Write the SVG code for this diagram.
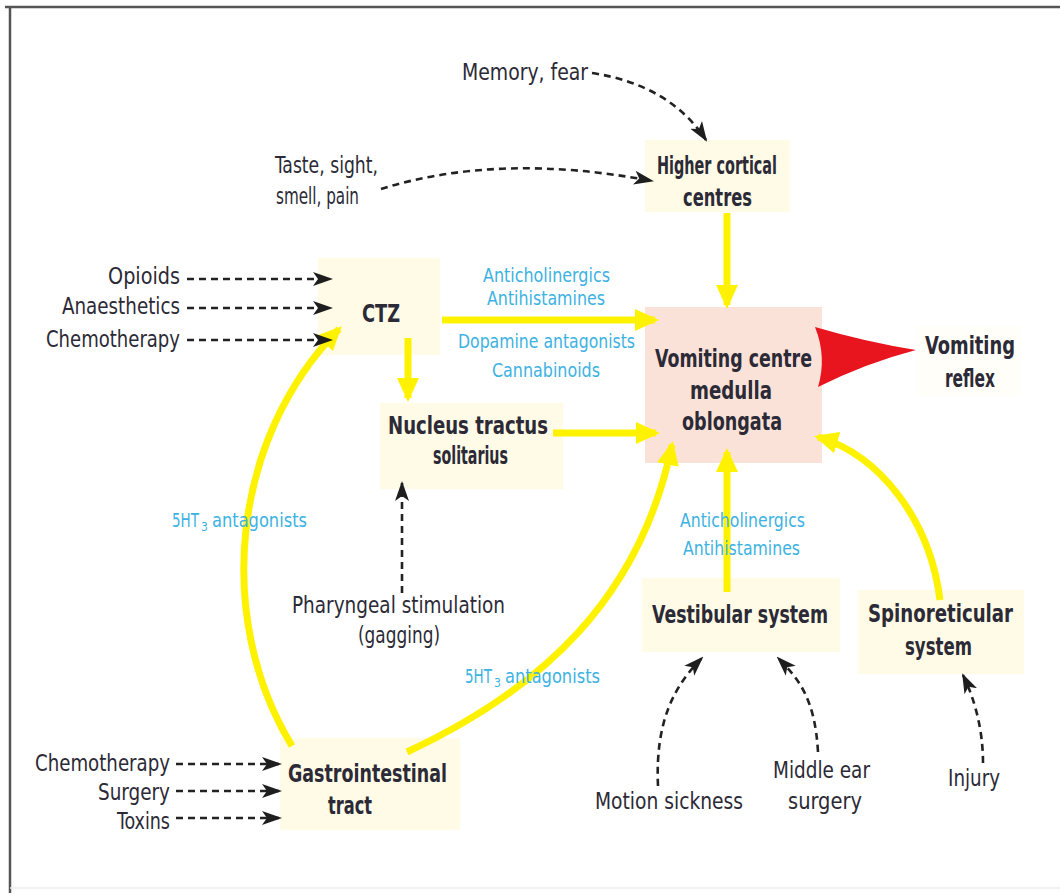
<svg xmlns="http://www.w3.org/2000/svg" width="1060" height="895" viewBox="0 0 1060 895">
<style>
text{font-family:"Liberation Sans Narrow","DejaVu Sans Condensed","Liberation Sans",Arial,sans-serif;fill:#2b2a36}
.r{font-size:23px}
.b{font-size:24px;font-weight:bold}
.bl{font-size:19px;fill:#3cb2e2}
.sub{font-size:12px;fill:#3cb2e2}
.box{fill:#fffbe6}
.vc{fill:#fbe2d8}
.y{fill:none;stroke:#fff200;stroke-width:7;marker-end:url(#ya)}
.d{fill:none;stroke:#222;stroke-width:2.6;stroke-dasharray:7,5;marker-end:url(#da)}
</style>
<defs>
<marker id="ya" markerUnits="userSpaceOnUse" viewBox="0 0 24 24" markerWidth="24" markerHeight="24" refX="20" refY="12" orient="auto">
<path d="M0,1 L24,12 L0,23 Z" fill="#fff200"/>
</marker>
<marker id="da" markerUnits="userSpaceOnUse" viewBox="0 0 20 16" markerWidth="20" markerHeight="16" refX="18" refY="8" orient="auto">
<path d="M0,1 L20,8 L0,15 L5,8 Z" fill="#1e1e1e"/>
</marker>
</defs>
<rect width="1060" height="895" fill="#fff"/>
<path d="M5,7 H1060 M10,7 V893" stroke="#555" stroke-width="2.5" fill="none"/>
<path d="M10,888 H1060" stroke="#ececec" stroke-width="1.5"/>

<g id="hcc"><rect class="box" x="645" y="140" width="145" height="72"/>
<text class="b" x="657" y="174" textLength="120" lengthAdjust="spacingAndGlyphs">Higher cortical</text>
<text class="b" x="683" y="206" textLength="69" lengthAdjust="spacingAndGlyphs">centres</text></g>
<g id="ctz"><rect class="box" x="318" y="258" width="122" height="97"/>
<text class="b" x="362" y="322" textLength="38" lengthAdjust="spacingAndGlyphs">CTZ</text></g>
<g id="nts"><rect class="box" x="380" y="403" width="183" height="86"/>
<text class="b" x="388" y="434" textLength="160" lengthAdjust="spacingAndGlyphs">Nucleus tractus</text>
<text class="b" x="433" y="464" textLength="75" lengthAdjust="spacingAndGlyphs">solitarius</text></g>
<g id="vc"><rect class="vc" x="645" y="307" width="177" height="156"/>
<text class="b" x="655" y="367" textLength="157" lengthAdjust="spacingAndGlyphs">Vomiting centre</text>
<text class="b" x="690" y="399" textLength="82" lengthAdjust="spacingAndGlyphs">medulla</text>
<text class="b" x="682" y="430" textLength="100" lengthAdjust="spacingAndGlyphs">oblongata</text></g>
<g id="reflex"><rect x="916" y="326" width="104" height="70" fill="#fffef8"/>
<text class="b" x="925" y="354" textLength="90" lengthAdjust="spacingAndGlyphs">Vomiting</text>
<text class="b" x="945" y="387" textLength="50" lengthAdjust="spacingAndGlyphs">reflex</text></g>
<g id="vest"><rect class="box" x="642" y="578" width="198" height="74"/>
<text class="b" x="652" y="623" textLength="176" lengthAdjust="spacingAndGlyphs">Vestibular system</text></g>
<g id="spino"><rect class="box" x="858" y="590" width="166" height="84"/>
<text class="b" x="868" y="622" textLength="145" lengthAdjust="spacingAndGlyphs">Spinoreticular</text>
<text class="b" x="905" y="655" textLength="67" lengthAdjust="spacingAndGlyphs">system</text></g>
<g id="gi"><rect class="box" x="280" y="738" width="180" height="92"/>
<text class="b" x="288" y="782" textLength="159" lengthAdjust="spacingAndGlyphs">Gastrointestinal</text>
<text class="b" x="328" y="814" textLength="44" lengthAdjust="spacingAndGlyphs">tract</text></g>
<g id="red"><path d="M815,327 Q866,342 916,350 Q866,363 818,387 Q827,357 815,327 Z" fill="#e8141e"/></g>

<g id="inputs">
<text class="r" x="462" y="80" textLength="126" lengthAdjust="spacingAndGlyphs">Memory, fear</text>
<text class="r" x="275" y="173" textLength="103" lengthAdjust="spacingAndGlyphs">Taste, sight,</text>
<text class="r" x="276" y="204" textLength="83" lengthAdjust="spacingAndGlyphs">smell, pain</text>
<text class="r" x="108" y="284" textLength="72" lengthAdjust="spacingAndGlyphs">Opioids</text>
<text class="r" x="62" y="314" textLength="118" lengthAdjust="spacingAndGlyphs">Anaesthetics</text>
<text class="r" x="46" y="347" textLength="134" lengthAdjust="spacingAndGlyphs">Chemotherapy</text>
<text class="r" x="292" y="613" textLength="213" lengthAdjust="spacingAndGlyphs">Pharyngeal stimulation</text>
<text class="r" x="358" y="643" textLength="82" lengthAdjust="spacingAndGlyphs">(gagging)</text>
<text class="r" x="35" y="771" textLength="135" lengthAdjust="spacingAndGlyphs">Chemotherapy</text>
<text class="r" x="98" y="800" textLength="72" lengthAdjust="spacingAndGlyphs">Surgery</text>
<text class="r" x="117" y="829" textLength="53" lengthAdjust="spacingAndGlyphs">Toxins</text>
<text class="r" x="595" y="809" textLength="148" lengthAdjust="spacingAndGlyphs">Motion sickness</text>
<text class="r" x="773" y="778" textLength="97" lengthAdjust="spacingAndGlyphs">Middle ear</text>
<text class="r" x="788" y="809" textLength="74" lengthAdjust="spacingAndGlyphs">surgery</text>
<text class="r" x="948" y="786" textLength="52" lengthAdjust="spacingAndGlyphs">Injury</text>
</g>

<g id="connectors">
<path class="y" d="M727,213 V305"/>
<path class="y" d="M442,320 H655"/>
<path class="y" d="M408,338 V398"/>
<path class="y" d="M553,433 H656"/>
<path class="y" d="M292,746 C215,620 230,440 339,329"/>
<path class="y" d="M407,752 C540,690 640,600 672,445"/>
<path class="y" d="M727,592 V452"/>
<path class="y" d="M940,600 C930,520 880,455 818,437"/>
<path class="d" d="M592,73 Q670,85 706,140"/>
<path class="d" d="M381,189 Q500,152 652,181"/>
<path class="d" d="M187,279 H331"/>
<path class="d" d="M187,308 H331"/>
<path class="d" d="M187,340 H331"/>
<path class="d" d="M402,593 V483"/>
<path class="d" d="M176,764 H280"/>
<path class="d" d="M176,791 H280"/>
<path class="d" d="M176,818 H280"/>
<path class="d" d="M658,786 C655,720 675,685 702,658"/>
<path class="d" d="M818,752 C815,700 800,680 778,658"/>
<path class="d" d="M983,763 C983,730 975,700 963,675"/>
</g>

<g id="drug-labels">
<text class="bl" x="483" y="282" textLength="127" lengthAdjust="spacingAndGlyphs">Anticholinergics</text>
<text class="bl" x="487" y="305" textLength="118" lengthAdjust="spacingAndGlyphs">Antihistamines</text>
<text class="bl" x="458" y="348" textLength="177" lengthAdjust="spacingAndGlyphs">Dopamine antagonists</text>
<text class="bl" x="492" y="377" textLength="108" lengthAdjust="spacingAndGlyphs">Cannabinoids</text>
<text class="bl" x="172" y="527" textLength="27" lengthAdjust="spacingAndGlyphs">5HT</text>
<text class="sub" x="201" y="531">3</text>
<text class="bl" x="212" y="527" textLength="95" lengthAdjust="spacingAndGlyphs">antagonists</text>
<text class="bl" x="465" y="683" textLength="27" lengthAdjust="spacingAndGlyphs">5HT</text>
<text class="sub" x="494" y="687">3</text>
<text class="bl" x="505" y="683" textLength="95" lengthAdjust="spacingAndGlyphs">antagonists</text>
<text class="bl" x="680" y="527" textLength="125" lengthAdjust="spacingAndGlyphs">Anticholinergics</text>
<text class="bl" x="683" y="555" textLength="117" lengthAdjust="spacingAndGlyphs">Antihistamines</text>
</g>
</svg>
